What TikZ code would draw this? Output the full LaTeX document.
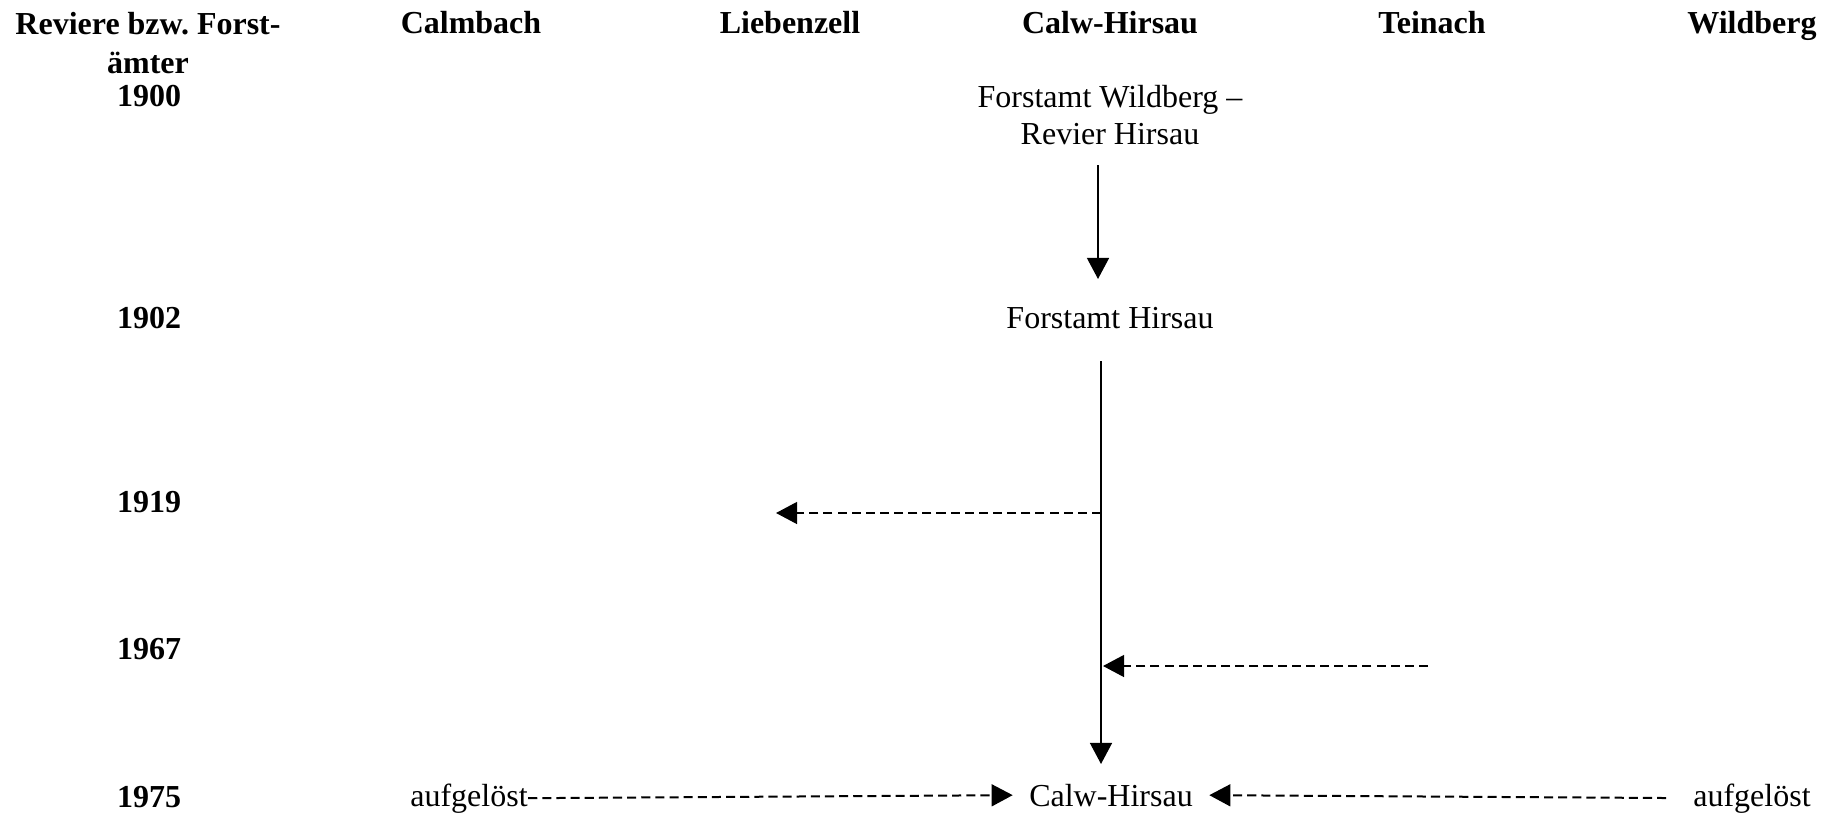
\documentclass[tikz,border=0pt]{standalone}
\usepackage{fontspec}
\setmainfont{Liberation Serif}
\usetikzlibrary{arrows.meta}
\frenchspacing

\begin{document}
\begin{tikzpicture}[
  x=0.375pt,y=-0.375pt,
  txt/.style={font=\fontsize{12}{13.9}\selectfont,inner sep=0pt,anchor=base},
  colhead/.style={txt,font=\fontsize{12}{14.6}\selectfont\bfseries},
  year/.style={colhead},
  flow/.style={-{Triangle[length=7.9pt,width=8.2pt]},line width=0.75pt},
  merge/.style={flow,dash pattern=on 3.4pt off 1.9pt}
]
\useasboundingbox (0,0) rectangle (1836,817);

% column heads
\node[colhead,align=center,anchor=north] (hdr) at (148,11.5) {Reviere bzw. Forst-\\ämter};
\node[colhead] (calmbach) at (471,33) {Calmbach};
\node[colhead] (liebenzell) at (790,33) {Liebenzell};
\node[colhead] (calwhirsau) at (1110,33) {Calw-Hirsau};
\node[colhead] (teinach) at (1432,33) {Teinach};
\node[colhead] (wildberg) at (1752,33) {Wildberg};

% years
\node[year] (y1900) at (149,106) {1900};
\node[year] (y1902) at (149,328) {1902};
\node[year] (y1919) at (149,512) {1919};
\node[year] (y1967) at (149,659) {1967};
\node[year] (y1975) at (149,807) {1975};

% offices
\node[txt,align=center,anchor=north] (fwild) at (1110,85) {Forstamt Wildberg --\\Revier Hirsau};
\node[txt] (fhirsau) at (1110,328) {Forstamt Hirsau};
\node[txt] (calw) at (1111,806) {Calw-Hirsau};
\node[txt] (auf1) at (469,806) {aufgelöst};
\node[txt] (auf2) at (1752,806) {aufgelöst};

% free ends
\coordinate (a1top) at (1098,165);
\coordinate (a1tip) at (1098,279);
\coordinate (vtop) at (1101,361);
\coordinate (vtip) at (1101,764);
\coordinate (s1919) at (1101,513);
\coordinate (e1919) at (776,513);
\coordinate (s1967) at (1428,666);
\coordinate (e1967) at (1103,666);

\draw[flow] (a1top) -- (a1tip);
\draw[flow] (vtop) -- (vtip);
\draw[merge] (s1919) -- (e1919);
\draw[merge] (s1967) -- (e1967);
\draw[merge,shorten >=6pt] (auf1.east) -- (calw.west);
\draw[merge,shorten <=10pt,shorten >=6pt] (auf2.west) -- (calw.east);
\end{tikzpicture}
\end{document}
